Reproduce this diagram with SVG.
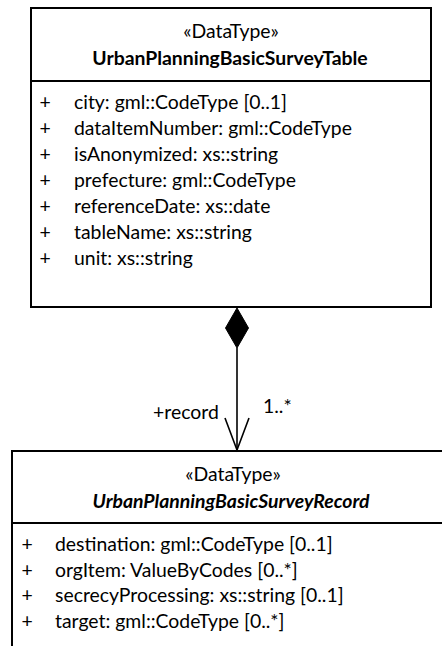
<svg xmlns="http://www.w3.org/2000/svg" width="442" height="646" viewBox="0 0 442 646">
<style>
text{font-family:Lato,"Liberation Sans",sans-serif;font-size:19.4px;fill:#000}
.c{text-anchor:middle}
.b{font-weight:bold}
.bi{font-weight:bold;font-style:italic}
.box{fill:#fff;stroke:#000;stroke-width:2}
.ln{stroke:#000;stroke-width:2}
.con{stroke:#000;stroke-width:1.6;fill:none}
</style>
<rect width="442" height="646" fill="#fff"/>
<g id="UrbanPlanningBasicSurveyTable">
<rect class="box" x="31" y="8" width="400" height="299"/>
<line class="ln" x1="31" y1="81" x2="431" y2="81"/>
<text class="c" x="231" y="38">«DataType»</text>
<text class="c b" x="230" y="65">UrbanPlanningBasicSurveyTable</text>
<text class="c" x="45" y="109">+</text><text x="74" y="109">city: gml::CodeType [0..1]</text>
<text class="c" x="45" y="135">+</text><text x="74" y="135">dataItemNumber: gml::CodeType</text>
<text class="c" x="45" y="161">+</text><text x="74" y="161">isAnonymized: xs::string</text>
<text class="c" x="45" y="187">+</text><text x="74" y="187">prefecture: gml::CodeType</text>
<text class="c" x="45" y="213">+</text><text x="74" y="213">referenceDate: xs::date</text>
<text class="c" x="45" y="239">+</text><text x="74" y="239">tableName: xs::string</text>
<text class="c" x="45" y="265">+</text><text x="74" y="265">unit: xs::string</text>
</g>
<g id="UrbanPlanningBasicSurveyRecord">
<rect class="box" x="12" y="451" width="440" height="200"/>
<line class="ln" x1="12" y1="523" x2="452" y2="523"/>
<text class="c" x="233" y="481">«DataType»</text>
<text class="c bi" x="231" y="508">UrbanPlanningBasicSurveyRecord</text>
<text class="c" x="27" y="551">+</text><text x="55" y="551">destination: gml::CodeType [0..1]</text>
<text class="c" x="27" y="577">+</text><text x="55" y="577">orgItem: ValueByCodes [0..*]</text>
<text class="c" x="27" y="602">+</text><text x="55" y="602">secrecyProcessing: xs::string [0..1]</text>
<text class="c" x="27" y="628">+</text><text x="55" y="628">target: gml::CodeType [0..*]</text>
</g>
<g id="connectors">
<polygon points="237,308 248.5,328 237,348 225.5,328" fill="#000" stroke="#000" stroke-width="1"/>
<line class="con" x1="237" y1="348" x2="237" y2="450"/>
<polyline class="con" points="225,418 237,450 249,418"/>
<text x="153" y="419">+record</text>
<text x="263" y="413">1..*</text>
</g>
</svg>
